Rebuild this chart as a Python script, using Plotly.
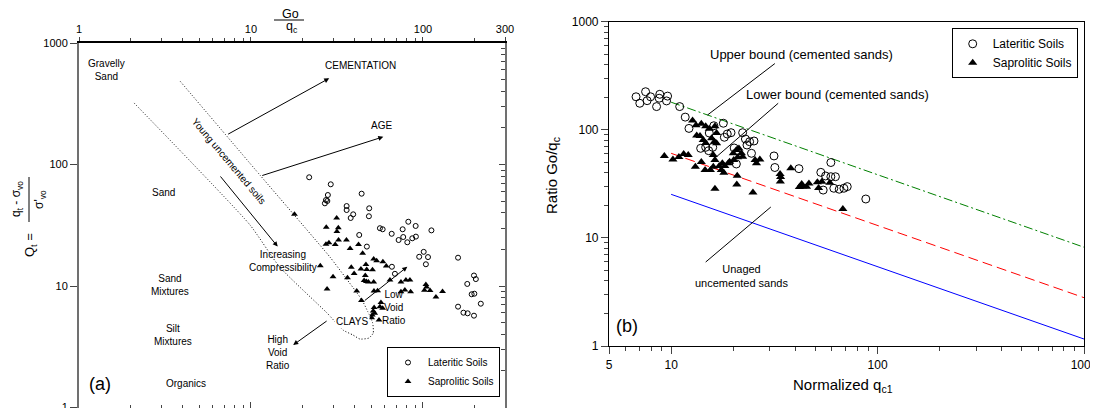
import numpy as np
import plotly.graph_objects as go

# page shows the figure with an 8px body margin
OFF = 8
W, H = 1098 - OFF, 408 - OFF
FONT = "Liberation Sans, Arial, sans-serif"

# ---------------- Panel (a): Go/qc vs Qt ----------------
lat_a_go_qc = [21.8, 29.1, 44.0, 28.0, 27.3, 27.8, 26.9, 36.0, 36.0, 48.7,
               39.3, 38.0, 48.5, 82.2, 56.2, 58.3, 76.2, 90.7, 112, 65.8,
               42.6, 76.8, 72.2, 91.0, 86.7, 81.1, 47.2, 101, 95.1, 107,
               104, 160, 66.0, 198, 203, 181, 192, 199, 217, 160,
               172, 182, 198, 68.7]
lat_a_qt = [78.5, 68.7, 57.5, 56.1, 51.0, 50.1, 47.9, 45.5, 42.2, 43.6,
            38.9, 36.3, 37.5, 33.8, 29.9, 29.3, 29.3, 31.2, 28.7, 26.9,
            26.3, 25.3, 23.9, 25.5, 24.7, 22.9, 21.1, 19.1, 17.4, 17.3,
            15.1, 17.1, 14.4, 12.2, 11.4, 10.4, 8.55, 8.64, 7.15, 6.76,
            6.03, 5.96, 5.70, 12.6]

sap_a_go_qc = [17.9, 31.5, 27.4, 32.2, 31.6, 27.3, 28.4, 30.9, 32.3, 35.9,
               37.7, 42.2, 44.6, 51.7, 53.8, 58.5, 61.2, 25.3, 30.0, 27.7,
               38.3, 39.8, 36.4, 43.6, 46.6, 47.1, 50.9, 46.2, 45.5, 46.9,
               48.2, 51.7, 54.5, 51.9, 41.2, 43.9, 57.0, 56.2, 52.0, 51.4,
               58.3, 50.7, 52.4, 55.5, 64.3, 74.5, 79.6, 84.0, 84.8, 74.5,
               104, 105, 102, 110, 119, 130, 50.3, 78.5]
sap_a_qt = [38.9, 36.3, 30.4, 30.2, 28.1, 22.1, 22.7, 22.0, 23.9, 23.9,
            20.4, 22.0, 18.6, 16.7, 16.1, 15.8, 14.6, 14.7, 11.9, 9.45,
            14.3, 12.7, 11.7, 13.8, 15.0, 13.7, 13.6, 12.2, 11.1, 10.9,
            10.8, 10.8, 9.13, 9.10, 9.10, 7.60, 7.32, 6.76, 6.65, 6.23,
            6.55, 5.77, 5.96, 5.25, 11.2, 10.8, 11.2, 11.2, 8.98, 8.98,
            10.3, 9.81, 9.22, 9.18, 8.12, 9.01, 5.48, 9.27]

# dotted "young uncemented soils" zone
zone_go_qc = [2.09, 9.87, 14.7, 27.7, 34.3, 39.2, 43.0, 48.5, 51.4, 51.0,
              47.9, 44.2, 35.2, 28.8, 11.4, 3.82]
zone_qt = [321, 31.8, 14.3, 5.99, 4.34, 3.95, 3.66, 3.73, 4.10, 4.96,
           6.11, 7.67, 11.9, 17.3, 80.4, 496]

a_xticks = [1, 10, 100, 300]
a_xticktext = ["1", "10", "100", "300"]
a_yticks = [1, 10, 100, 1000]
a_yticktext = ["1", "10", "100", "1000"]

# ---------------- Panel (b): Normalized qc1 vs Go/qc ----------------
lat_b_qc1 = [6.76, 7.52, 7.05, 7.65, 7.95, 8.81, 8.50, 8.75, 9.61, 9.50,
             11.0, 11.7, 12.2, 13.9, 14.7, 15.2, 15.9, 15.3, 16.1, 17.9,
             18.7, 19.5, 18.1, 22.2, 22.9, 24.0, 25.2, 23.3, 20.2, 24.5,
             20.7, 31.5, 31.8, 41.6, 59.4, 53.1, 56.0, 59.4, 62.5, 54.5,
             61.4, 65.2, 68.7, 71.3, 87.7]
lat_b_ratio = [202, 225, 176, 186, 202, 213, 164, 196, 205, 185,
               164, 131, 103, 67.4, 68.9, 64.1, 68.9, 93.4, 109, 115,
               91.4, 94.0, 85.3, 94.0, 82.2, 77.6, 78.8, 72.3, 67.9, 60.6,
               48.3, 57.3, 44.8, 43.7, 49.8, 40.4, 37.4, 36.8, 36.8, 27.7,
               28.8, 28.2, 28.8, 29.8, 22.9]

sap_b_qc1 = [9.27, 10.2, 10.9, 11.5, 12.1, 12.7, 13.2, 14.0, 13.3, 13.8,
             14.7, 15.3, 16.3, 14.3, 14.7, 15.7, 16.2, 16.6, 16.6, 13.1,
             14.0, 14.6, 15.5, 16.0, 16.3, 16.0, 17.1, 17.7, 18.2, 18.9,
             19.2, 17.5, 18.0, 20.9, 20.8, 16.3, 24.9, 20.0, 20.7, 21.3,
             21.9, 22.2, 20.1, 21.0, 25.5, 26.9, 25.9, 33.7, 33.9, 33.8,
             38.0, 41.8, 42.9, 43.5, 46.5, 45.3, 51.1, 51.8, 53.7, 58.7,
             67.9]
sap_b_ratio = [57.3, 53.1, 56.0, 59.7, 58.5, 122, 110, 114, 88.6, 87.6,
               108, 102, 108, 80.5, 75.5, 83.4, 77.6, 75.0, 93.4, 45.6,
               50.4, 42.5, 42.5, 45.6, 52.6, 58.5, 46.2, 49.0, 46.2, 49.0,
               50.7, 42.5, 40.1, 37.6, 31.2, 28.5, 26.3, 60.6, 65.0, 67.1,
               60.6, 56.4, 52.6, 55.7, 52.6, 53.1, 49.0, 39.0, 36.6, 33.2,
               44.0, 29.6, 31.5, 29.9, 31.9, 29.8, 32.7, 28.9, 33.1, 32.4,
               18.5]

bound_qc1 = [10, 1000]
upper_ratio = [180, 8.2]
lower_ratio = [60.6, 2.8]
unaged_ratio = [25.3, 1.16]

b_xticks = [5, 10, 100, 1000]
b_xticktext = ["5", "10", "100", "1000"]
b_yticks = [1, 10, 100, 1000]
b_yticktext = ["1", "10", "100", "1000"]

minor_dec = [2, 3, 4, 5, 6, 7, 8, 9, 20, 30, 40, 50, 60, 70, 80, 90,
             200, 300, 400, 500, 600, 700, 800, 900]
a_xminor = [v for v in minor_dec if v < 300]
b_xminor = [v for v in minor_dec if v > 5]


def px(x, y):
    """screen pixel (reference picture) -> paper coords"""
    return (x - OFF) / W, 1 - (y - OFF) / H


def domx(a, b):
    return [(a - OFF) / W, (b - OFF) / W]


def domy(top, bottom):
    return [1 - (bottom - OFF) / H, 1 - (top - OFF) / H]


L = np.log10

fig = go.Figure()

# ---- panel (a) traces
fig.add_trace(go.Scatter(x=zone_go_qc, y=zone_qt, mode="lines", xaxis="x", yaxis="y",
                         line=dict(color="black", width=1, dash="1px,2px", shape="spline", smoothing=0.5),
                         showlegend=False, hoverinfo="skip"))
fig.add_trace(go.Scatter(x=lat_a_go_qc, y=lat_a_qt, mode="markers", xaxis="x", yaxis="y",
                         name="Lateritic Soils", legend="legend",
                         marker=dict(symbol="circle-open", size=5, color="black", line=dict(width=1, color="black"))))
fig.add_trace(go.Scatter(x=sap_a_go_qc, y=sap_a_qt, mode="markers", xaxis="x", yaxis="y",
                         name="Saprolitic Soils", legend="legend",
                         marker=dict(symbol="triangle-up", size=6, color="black")))
# empty traces to realise the overlay axes
fig.add_trace(go.Scatter(x=[], y=[], xaxis="x3", yaxis="y", showlegend=False, hoverinfo="skip"))
fig.add_trace(go.Scatter(x=[], y=[], xaxis="x", yaxis="y3", showlegend=False, hoverinfo="skip"))

# ---- panel (b) traces
fig.add_trace(go.Scatter(x=bound_qc1, y=upper_ratio, mode="lines", xaxis="x2", yaxis="y2",
                         line=dict(color="#008000", width=1, dash="9px,3px,2px,3px"),
                         showlegend=False, hoverinfo="skip"))
fig.add_trace(go.Scatter(x=bound_qc1, y=lower_ratio, mode="lines", xaxis="x2", yaxis="y2",
                         line=dict(color="#ff0000", width=1, dash="10px,5px"),
                         showlegend=False, hoverinfo="skip"))
fig.add_trace(go.Scatter(x=bound_qc1, y=unaged_ratio, mode="lines", xaxis="x2", yaxis="y2",
                         line=dict(color="#0000ff", width=1),
                         showlegend=False, hoverinfo="skip"))
# leader lines
leaders = [([15.0, 31.8], [137, 410]), ([16.6, 33.0], [56.4, 176]), ([30.4, 14.7], [19.3, 5.98])]
for lx, ly in leaders:
    fig.add_trace(go.Scatter(x=lx, y=ly, mode="lines", xaxis="x2", yaxis="y2",
                             line=dict(color="black", width=1), showlegend=False, hoverinfo="skip"))
fig.add_trace(go.Scatter(x=lat_b_qc1, y=lat_b_ratio, mode="markers", xaxis="x2", yaxis="y2",
                         name="Lateritic Soils", legend="legend2",
                         marker=dict(symbol="circle-open", size=8, color="black", line=dict(width=1, color="black"))))
fig.add_trace(go.Scatter(x=sap_b_qc1, y=sap_b_ratio, mode="markers", xaxis="x2", yaxis="y2",
                         name="Saprolitic Soils", legend="legend2",
                         marker=dict(symbol="triangle-up", size=8, color="black")))

# ---- annotations
ann = []


def tx(xr, yr, x, y, text, size, **kw):
    d = dict(xref=xr, yref=yr, x=L(x), y=L(y), text=text, showarrow=False,
             xanchor="center", yanchor="middle",
             font=dict(size=size, family=FONT, color="black"))
    d.update(kw)
    ann.append(d)


def arrow(xr, yr, x0, y0, x1, y1):
    ann.append(dict(xref=xr, yref=yr, axref=xr, ayref=yr, x=L(x1), y=L(y1), ax=L(x0), ay=L(y0),
                    text="", showarrow=True, arrowhead=2, arrowsize=1, arrowwidth=1,
                    arrowcolor="black", standoff=0, startstandoff=0))


def ptx(x, y, text, size, **kw):
    a, b = px(x, y)
    d = dict(xref="paper", yref="paper", x=a, y=b, text=text, showarrow=False,
             xanchor="center", yanchor="middle",
             font=dict(size=size, family=FONT, color="black"))
    d.update(kw)
    ann.append(d)


# panel (a) zone labels
tx("x", "y", 1.45, 600, "Gravelly<br>Sand", 10)
tx("x", "y", 3.09, 58.6, "Sand", 10)
tx("x", "y", 3.38, 10.25, "Sand<br>Mixtures", 10)
tx("x", "y", 3.53, 3.97, "Silt<br>Mixtures", 10)
tx("x", "y", 4.19, 1.58, "Organics", 10)
tx("x", "y", 43.6, 659, "CEMENTATION", 10)
tx("x", "y", 57.5, 209, "AGE", 10)
tx("x", "y", 7.45, 105, "Young uncemented soils", 10, textangle=50)
tx("x", "y", 15.3, 16.1, "Increasing<br>Compressibility", 10)
tx("x", "y", 38.5, 5.08, "CLAYS", 10, bgcolor="white")
tx("x", "y", 14.4, 2.81, "High<br>Void<br>Ratio", 10)
tx("x", "y", 67.8, 6.65, "Low<br>Void<br>Ratio", 10)
arrow("x", "y", 7.22, 175, 28.5, 512)
arrow("x", "y", 11.4, 80.4, 58.8, 169)
arrow("x", "y", 6.54, 82.0, 14.3, 21.1)
arrow("x", "y", 28.1, 5.25, 17.6, 3.27)
arrow("x", "y", 45.0, 7.43, 81.1, 14.4)
ptx(100, 384, "(a)", 18)
# panel (a) axis titles
ptx(290, 14, "Go", 12.5)
ptx(292, 27, "q<sub>c</sub>", 12.5)
ptx(17, 199, "q<sub>t</sub> - σ<sub>vo</sub>", 12, textangle=-90)
ptx(40, 200, "σ'<sub>vo</sub>", 12, textangle=-90)
ptx(30, 245, "Q<sub>t</sub> =", 13, textangle=-90)

# panel (b) labels
tx("x2", "y2", 43.0, 502, "Upper bound (cemented sands)", 13)
tx("x2", "y2", 64.3, 213, "Lower bound (cemented sands)", 13)
tx("x2", "y2", 22.0, 4.44, "Unaged<br>uncemented sands", 11)
ptx(627, 326, "(b)", 18)
ptx(843, 385, "Normalized q<sub>c1</sub>", 15)
ptx(553, 176, "Ratio Go/q<sub>c</sub>", 15, textangle=-90)

shapes = []
x0, y0 = px(274, 20)
x1, _ = px(304, 20)
shapes.append(dict(type="line", xref="paper", yref="paper", x0=x0, x1=x1, y0=y0, y1=y0,
                   line=dict(color="black", width=1)))
xa, ya = px(29, 177)
_, yb = px(29, 222)
shapes.append(dict(type="line", xref="paper", yref="paper", x0=xa, x1=xa, y0=ya, y1=yb,
                   line=dict(color="black", width=1)))

common = dict(type="log", showgrid=False, zeroline=False, tickfont=dict(size=11, family=FONT, color="black"),
              automargin=False, ticklabeloverflow="allow")

fig.update_layout(
    width=W, height=H, margin=dict(l=0, r=0, t=0, b=0),
    paper_bgcolor="white", plot_bgcolor="white",
    font=dict(family=FONT, size=11, color="black"),
    annotations=ann, shapes=shapes,
    xaxis=dict(common, domain=domx(79, 505), range=[0, L(300)], anchor="y", side="bottom",
               showline=True, linecolor="black", linewidth=1,
               ticks="inside", ticklen=6, tickvals=[1, 10, 100], showticklabels=False,
               minor=dict(tickvals=a_xminor, ticks="inside", ticklen=3, showgrid=False)),
    xaxis3=dict(common, overlaying="x", anchor="y", side="top", range=[0, L(300)],
                showline=True, linecolor="black", linewidth=1.5,
                ticks="outside", ticklen=4, tickvals=a_xticks, ticktext=a_xticktext,
                minor=dict(tickvals=a_xminor, ticks="outside", ticklen=3, showgrid=False)),
    yaxis=dict(common, domain=domy(43, 407.5), range=[0, 3], anchor="x", side="left",
               showline=True, linecolor="#707070", linewidth=2,
               ticks="outside", ticklen=7, tickvals=a_yticks, ticktext=a_yticktext),
    yaxis3=dict(common, overlaying="y", anchor="x", side="right", range=[0, 3],
                showline=True, linecolor="#707070", linewidth=1.5,
                ticks="inside", ticklen=6, tickvals=a_yticks, showticklabels=False,
                minor=dict(tickvals=minor_dec, ticks="inside", ticklen=4, showgrid=False)),
    xaxis2=dict(common, domain=domx(609, 1084), range=[L(5), 3], anchor="y2",
                showline=True, linecolor="black", linewidth=1.2, mirror=True,
                ticks="outside", ticklen=7, tickvals=b_xticks, ticktext=b_xticktext,
                tickfont=dict(size=12, family=FONT, color="black"),
                minor=dict(tickvals=b_xminor, ticks="outside", ticklen=4, showgrid=False)),
    yaxis2=dict(common, domain=domy(21.7, 346), range=[0, 3], anchor="x2",
                showline=True, linecolor="black", linewidth=1.2, mirror=True,
                ticks="outside", ticklen=7, tickvals=b_yticks, ticktext=b_yticktext,
                tickfont=dict(size=12, family=FONT, color="black"),
                minor=dict(tickvals=minor_dec, ticks="outside", ticklen=4, showgrid=False)),
    legend=dict(x=px(500, 0)[0], xanchor="right", y=px(0, 397)[1], yanchor="bottom",
                bgcolor="white", bordercolor="black", borderwidth=1,
                font=dict(size=10, family=FONT, color="black"), tracegroupgap=0),
    legend2=dict(x=px(1077.7, 0)[0], xanchor="right", y=px(0, 28.3)[1], yanchor="top",
                 bgcolor="white", bordercolor="black", borderwidth=1,
                 font=dict(size=12, family=FONT, color="black"), tracegroupgap=0),
)

fig.write_html("out.html")
